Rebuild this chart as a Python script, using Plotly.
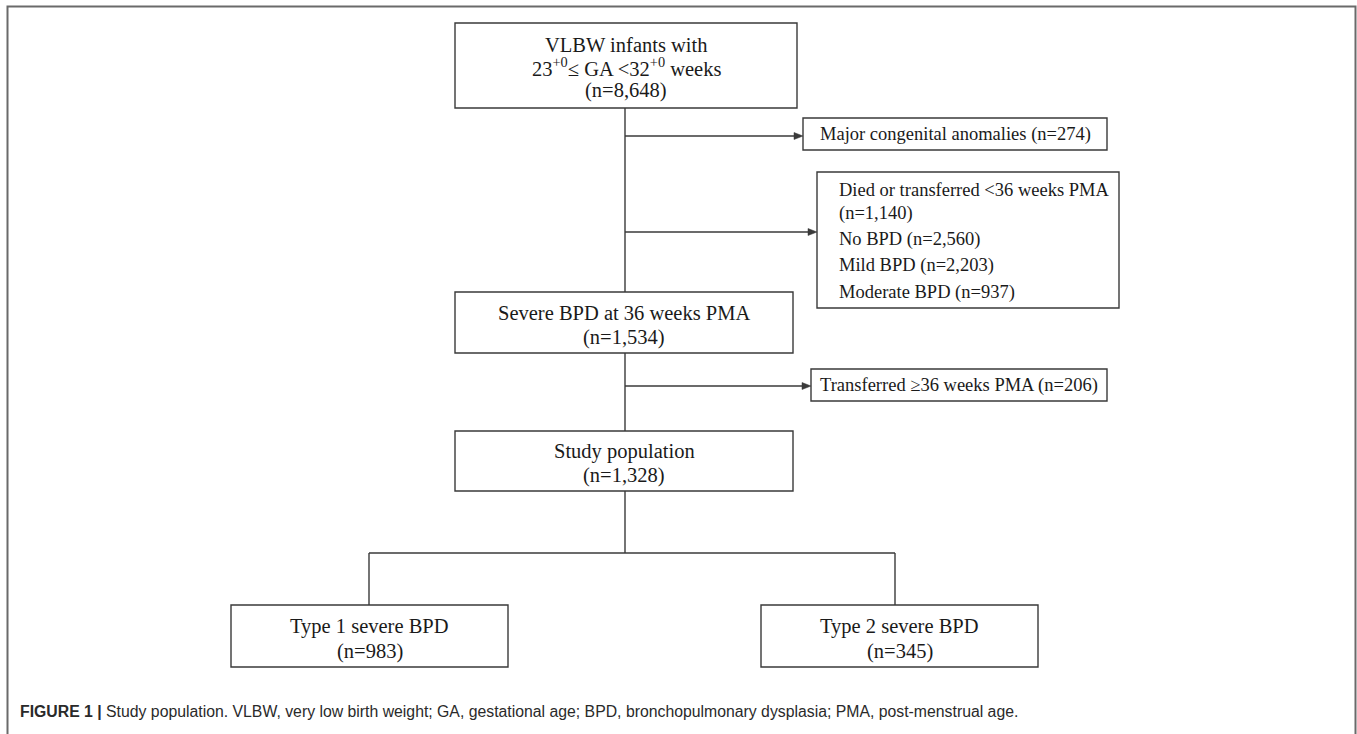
import plotly.graph_objects as go

# ---- data (flowchart content) ----
main_labels = ["VLBW infants with<br>23<sup>+0</sup>\u2264 GA <32<sup>+0</sup> weeks",
               "Severe BPD at 36 weeks PMA",
               "Study population"]
main_n = ["8,648", "1,534", "1,328"]

excl1_label = "Major congenital anomalies"
excl1_n = "274"

excl2_labels = ["Died or transferred <36 weeks PMA", "No BPD", "Mild BPD", "Moderate BPD"]
excl2_n = ["1,140", "2,560", "2,203", "937"]

excl3_label = "Transferred \u226536 weeks PMA"
excl3_n = "206"

split_labels = ["Type 1 severe BPD", "Type 2 severe BPD"]
split_n = ["983", "345"]

caption_bold = "FIGURE 1 |"
caption_text = (" Study population. VLBW, very low birth weight; GA, gestational age; "
                "BPD, bronchopulmonary dysplasia; PMA, post-menstrual age.")

# ---- layout geometry (pixels) ----
W, H = 1357, 734
LINE = "#3a3a3a"
TXT = "#1a1a1a"
SERIF = "Liberation Serif, Times New Roman, serif"
CX = 625
main_boxes = [(455, 23, 797, 108), (455, 292, 793, 353), (455, 431, 793, 491)]
main_text_y = [[45, 67, 90], [313, 337], [451, 475]]
ex1_box = (803, 118, 1107, 150); ex1_arrow_y = 136
ex2_box = (817, 172, 1119, 308); ex2_arrow_y = 232
ex2_text_y = [[190, 213], [239], [265], [292]]
ex3_box = (811, 369, 1107, 401); ex3_arrow_y = 386
split_y = 553
split_x = [369, 895]
split_boxes = [(231, 605, 508, 667), (761, 605, 1038, 667)]
split_text_y = [[626, 651], [626, 651]]

shapes = []
annotations = []


def rect(b, color=LINE, width=1.4):
    shapes.append(dict(type="rect", xref="x", yref="y", x0=b[0], y0=b[1], x1=b[2], y1=b[3],
                       line=dict(color=color, width=width), fillcolor="rgba(0,0,0,0)", layer="above"))


def seg(x0, y0, x1, y1, width=1.4):
    shapes.append(dict(type="line", xref="x", yref="y", x0=x0, y0=y0, x1=x1, y1=y1,
                       line=dict(color=LINE, width=width), layer="above"))


def text(x, y, s, size=20, anchor="center", family=SERIF, color=TXT):
    annotations.append(dict(x=x, y=y, xref="x", yref="y", text=s, showarrow=False,
                            xanchor=anchor, yanchor="middle",
                            font=dict(family=family, size=size, color=color)))


def arrow(x_to, y, x_from, L=9, hw=3.5):
    seg(x_from, y, x_to - L + 1, y, width=1.3)
    shapes.append(dict(type="path", xref="x", yref="y",
                       path=f"M {x_to - L},{y - hw} L {x_to},{y} L {x_to - L},{y + hw} Z",
                       fillcolor=LINE, line=dict(color=LINE, width=0.5), layer="above"))


# outer frame
shapes.append(dict(type="rect", xref="x", yref="y", x0=7.5, y0=6.5, x1=1355.5, y1=760,
                   line=dict(color="#6a6a6a", width=2), fillcolor="rgba(0,0,0,0)"))

# main boxes
for i, b in enumerate(main_boxes):
    rect(b)
    lines = main_labels[i].split("<br>") + ["(n=" + main_n[i] + ")"]
    for s, y in zip(lines, main_text_y[i]):
        text((b[0] + b[2]) / 2, y, s, size=20.5)

# main vertical connectors
seg(CX, main_boxes[0][3], CX, main_boxes[1][1])
seg(CX, main_boxes[1][3], CX, main_boxes[2][1])
seg(CX, main_boxes[2][3], CX, split_y)

# exclusion 1
rect(ex1_box)
text((ex1_box[0] + ex1_box[2]) / 2, (ex1_box[1] + ex1_box[3]) / 2, f"{excl1_label} (n={excl1_n})", size=18.5)
arrow(ex1_box[0], ex1_arrow_y, CX)

# exclusion 2
rect(ex2_box)
text(837, ex2_text_y[0][0], excl2_labels[0], size=18.5, anchor="left")
text(837, ex2_text_y[0][1], f"(n={excl2_n[0]})", size=18.5, anchor="left")
for lab, n, ys in zip(excl2_labels[1:], excl2_n[1:], ex2_text_y[1:]):
    text(837, ys[0], f"{lab} (n={n})", size=18.5, anchor="left")
arrow(ex2_box[0], ex2_arrow_y, CX)

# exclusion 3
rect(ex3_box)
text((ex3_box[0] + ex3_box[2]) / 2, (ex3_box[1] + ex3_box[3]) / 2, f"{excl3_label} (n={excl3_n})", size=18.5)
arrow(ex3_box[0], ex3_arrow_y, CX)

# split
seg(split_x[0], split_y, split_x[1], split_y)
for i, b in enumerate(split_boxes):
    seg(split_x[i], split_y, split_x[i], b[1])
    rect(b)
    text((b[0] + b[2]) / 2, split_text_y[i][0], split_labels[i], size=20.5)
    text((b[0] + b[2]) / 2, split_text_y[i][1], f"(n={split_n[i]})", size=20.5)

# caption
text(18, 711, f"<b>{caption_bold}</b>{caption_text}", size=15.8, anchor="left",
     family="Liberation Sans Narrow, Arial Narrow, Liberation Sans, Arial, sans-serif", color="#2a2a2a")

fig = go.Figure()
fig.update_layout(
    width=W, height=H,
    margin=dict(l=0, r=0, t=0, b=0),
    paper_bgcolor="white", plot_bgcolor="white",
    xaxis=dict(range=[0, W], visible=False, fixedrange=True),
    yaxis=dict(range=[H, 0], visible=False, fixedrange=True),
    shapes=shapes, annotations=annotations, showlegend=False,
)
fig.write_html("out.html",
               config={"displayModeBar": False},
               post_script="document.body.style.margin='0';document.body.style.overflow='hidden';")
